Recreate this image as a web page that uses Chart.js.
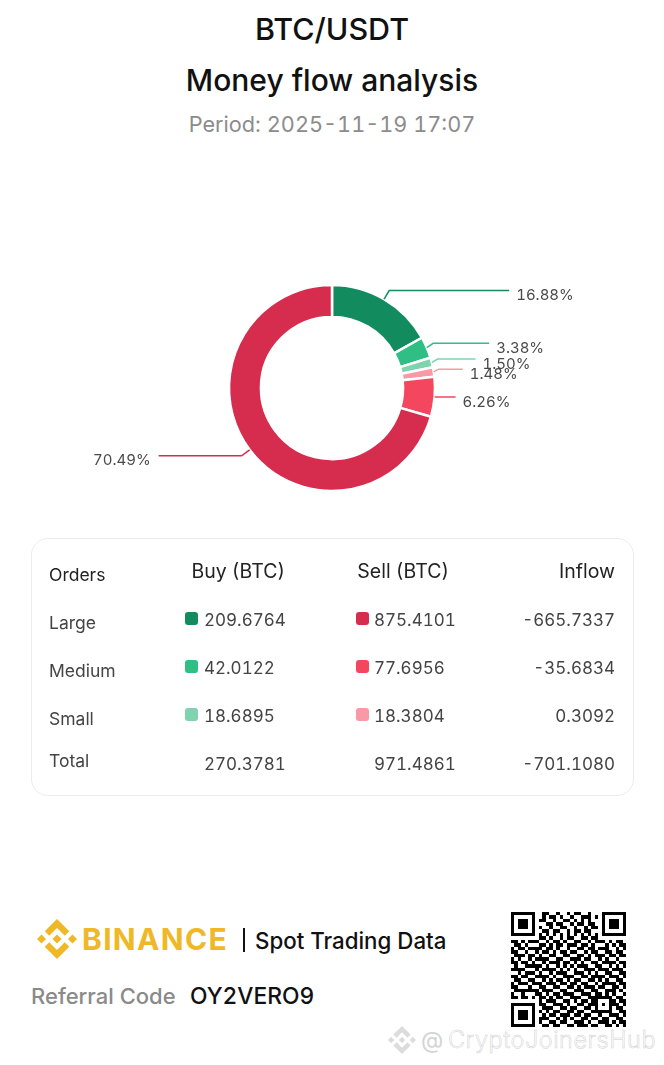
<!DOCTYPE html>
<html>
<head>
<meta charset="utf-8">
<title>BTC/USDT Money flow analysis</title>
<script src="https://cdn.jsdelivr.net/npm/chart.js@4"></script>
<style>
    html, body { margin: 0; padding: 0; background: #fff; }
    body { position: relative; width: 664px; height: 1065px; overflow: hidden; font-family: Inter, "Noto Sans", sans-serif; color: #111; font-variant-numeric: tabular-nums; }
    .t { position: absolute; white-space: nowrap; line-height: 1; transform: translateY(-50%); }
    .c { left: 0; width: 664px; text-align: center; }
    #chartBox { position: absolute; left: 0; top: 228px; width: 664px; height: 320px; }
    #flowChart { display: block; }
    #card { position: absolute; left: 31px; top: 538px; width: 601px; height: 256px; border: 1px solid #ececec; border-radius: 17px; }
    .swatch { position: absolute; width: 13px; height: 13px; border-radius: 3px; }
    #qr { position: absolute; left: 511px; top: 912px; }
    #logo { position: absolute; left: 37px; top: 919px; }
    #wmLogo { position: absolute; left: 388px; top: 1026px; }
</style>
</head>
<body>
<div class="t c" style="top:29px;font-size:30.5px;font-weight:500">BTC/USDT</div>
<div class="t c" style="top:80px;font-size:30px;font-weight:500">Money flow analysis</div>
<div class="t c" style="top:125px;font-size:21.7px;color:#8c8c8c">Period: 2025-11-19 17:07</div>

<div id="chartBox"><canvas id="flowChart" width="664" height="320"></canvas></div>
<div id="card"></div>

<svg id="logo" width="40" height="40" viewBox="0 0 126.61 126.61" fill="#efb827">
    <polygon points="38.73 53.2 63.3 28.63 87.89 53.22 102.19 38.92 63.3 0 24.42 38.9"/>
    <polygon points="0 63.31 14.3 49.01 28.6 63.31 14.3 77.61"/>
    <polygon points="38.73 73.41 63.3 97.98 87.89 73.39 102.2 87.68 63.3 126.61 24.41 87.73"/>
    <polygon points="98.01 63.31 112.31 49.01 126.61 63.31 112.31 77.61"/>
    <polygon points="77.8 63.3 63.3 48.8 48.82 63.28 63.3 77.79"/>
</svg>
<div class="t" style="left:82px;top:939px;font-size:30px;font-weight:700;color:#efb827;letter-spacing:1.3px">BINANCE</div>
<div style="position:absolute;left:243px;top:928px;width:2px;height:24px;background:#111"></div>
<div class="t" style="left:255px;top:941px;font-size:22.3px;font-weight:500">Spot Trading Data</div>
<div class="t" style="left:31px;top:996px;font-size:22px;font-weight:500;color:#8a8a8a">Referral Code</div>
<div class="t" style="left:190px;top:996px;font-size:22.8px;font-weight:500">OY2VERO9</div>

<svg id="qr" width="115" height="115" viewBox="0 0 33 33" shape-rendering="crispEdges"></svg>

<svg id="wmLogo" width="28" height="28" viewBox="0 0 126.61 126.61" fill="#dcdcdc">
    <polygon points="38.73 53.2 63.3 28.63 87.89 53.22 102.19 38.92 63.3 0 24.42 38.9"/>
    <polygon points="0 63.31 14.3 49.01 28.6 63.31 14.3 77.61"/>
    <polygon points="38.73 73.41 63.3 97.98 87.89 73.39 102.2 87.68 63.3 126.61 24.41 87.73"/>
    <polygon points="98.01 63.31 112.31 49.01 126.61 63.31 112.31 77.61"/>
    <polygon points="77.8 63.3 63.3 48.8 48.82 63.28 63.3 77.79"/>
</svg>
<div class="t" style="left:421px;top:1040px;font-size:23px;color:#d4d4d4">@</div>
<div class="t" style="left:448px;top:1040px;font-size:23.5px;font-weight:300;color:#fff;-webkit-text-stroke:0.5px #cfcfcf;letter-spacing:0.5px">CryptoJoinersHub</div>

<script>
// table rows
const orderNames = ['Large', 'Medium', 'Small'];
const buyValues = [209.6764, 42.0122, 18.6895];
const sellValues = [875.4101, 77.6956, 18.3804];
const inflowValues = ['-665.7337', '-35.6834', '0.3092'];
const totalRow = ['270.3781', '971.4861', '-701.1080'];
const columnTitles = ['Orders', 'Buy (BTC)', 'Sell (BTC)', 'Inflow'];

// doughnut, clockwise from the top
const sliceValues = [buyValues[0], buyValues[1], buyValues[2], sellValues[2], sellValues[1], sellValues[0]];
const sliceLabels = ['16.88%', '3.38%', '1.50%', '1.48%', '6.26%', '70.49%'];

const buyColors = ['#128c5f', '#2fbe84', '#7fd4af'];
const sellColors = ['#d62c4d', '#f5465f', '#fb98a6'];
const sliceColors = [buyColors[0], buyColors[1], buyColors[2], sellColors[2], sellColors[1], sellColors[0]];

// leader line of each slice: radial part, lift of the elbow, horizontal part (negative goes left)
const leaderRadial = [10, 7, 6, 5, 1, 10];
const leaderLift = [0, 1.5, 2, 2, 0, 0];
const leaderRun = [120, 56, 38, 24, 20, -83];

// qr code, read by eye
const qrRows = [
    '111111100110010010110010001111111',
    '100000100101101001001110101000001',
    '101110101100100110101010001011101',
    '101110100011011001011011001011101',
    '101110101001001100100101101011101',
    '100000100110110010110110001000001',
    '111111101010101010101010101111111',
    '000000001101001011001101100000000',
    '110101110010110100110010111010110',
    '011010001101011011101101000101011',
    '101101111011010010011011011100101',
    '110010010110101101100101100110110',
    '011101101001100110011010111011011',
    '101001011110011001110110010100100',
    '110110100101110110101001101111011',
    '010011111010010101011100110010101',
    '111100010111101010100111011101110',
    '001011101001011100111010100110011',
    '110110011110100111001101111011101',
    '011001100101011010110011010100110',
    '101110111011101101101100101111011',
    '110001001100110011010111011001101',
    '011111110111001100111001100111010',
    '100100011010110111001110110101001',
    '110110101101011001110011111110110',
    '000000001011100110101101100011011',
    '111111101100111010011011101011101',
    '100000100111001101100110100010110',
    '101110101010110011011001111110011',
    '101110100101101110110110010011101',
    '101110101110010101001101101100110',
    '100000101001101100111010011101011',
    '111111100110110011011101100110101'
];

function addText(text, x, y, size, weight, color, rightAlign) {
    const el = document.createElement('div');
    el.className = 't';
    el.textContent = text;
    el.style.top = y + 'px';
    if (rightAlign) {
        el.style.right = (664 - x) + 'px';
    } else {
        el.style.left = x + 'px';
    }
    el.style.fontSize = size + 'px';
    el.style.fontWeight = weight;
    el.style.color = color;
    document.body.appendChild(el);
}

function addSwatch(x, y, color) {
    const el = document.createElement('div');
    el.className = 'swatch';
    el.style.left = x + 'px';
    el.style.top = (y - 7) + 'px';
    el.style.background = color;
    document.body.appendChild(el);
}

function buildTable() {
    const rowY = [619, 667, 715];
    const nameY = [623, 671, 719];
    addText(columnTitles[0], 49, 575, 17.5, 400, '#222');
    addText(columnTitles[1], 285, 572, 19.5, 400, '#222', true);
    addText(columnTitles[2], 449, 572, 19.5, 400, '#222', true);
    addText(columnTitles[3], 615, 572, 19.5, 400, '#222', true);

    for (let i = 0; i < orderNames.length; i++) {
        addText(orderNames[i], 49, nameY[i], 17.5, 400, '#444');
        addSwatch(185, rowY[i], buyColors[i]);
        addText(buyValues[i].toFixed(4), 204, rowY[i] + 1, 17, 400, '#444');
        addSwatch(356, rowY[i], sellColors[i]);
        addText(sellValues[i].toFixed(4), 374, rowY[i] + 1, 17, 400, '#444');
        addText(inflowValues[i], 615, rowY[i] + 1, 17, 400, '#444', true);
    }

    addText('Total', 49, 761, 17.5, 400, '#444');
    addText(totalRow[0], 204, 764, 17, 400, '#444');
    addText(totalRow[1], 374, 764, 17, 400, '#444');
    addText(totalRow[2], 615, 764, 17, 400, '#444', true);
}

function buildQr() {
    const svg = document.getElementById('qr');
    let marks = '';
    qrRows.forEach((row, y) => {
        [...row].forEach((cell, x) => {
            if (cell === '1') {
                marks += `<rect x="${x}" y="${y}" width="1" height="1"/>`;
            }
        });
    });
    svg.innerHTML = marks;
}

// percent labels with their leader lines
const leaderPlugin = {
    id: 'leaderLabels',
    afterDatasetsDraw(chart) {
        const ctx = chart.ctx;
        const arcs = chart.getDatasetMeta(0).data;
        arcs.forEach((arc, i) => {
            const p = arc.getProps(['x', 'y', 'startAngle', 'endAngle', 'outerRadius']);
            const mid = (p.startAngle + p.endAngle) / 2;
            const sx = p.x + Math.cos(mid) * p.outerRadius;
            const sy = p.y + Math.sin(mid) * p.outerRadius;
            const ex = p.x + Math.cos(mid) * (p.outerRadius + leaderRadial[i]);
            const ey = p.y + Math.sin(mid) * (p.outerRadius + leaderRadial[i]) - leaderLift[i];
            const endX = ex + leaderRun[i];

            ctx.save();
            ctx.strokeStyle = sliceColors[i];
            ctx.lineWidth = 1.5;
            ctx.beginPath();
            ctx.moveTo(sx, sy);
            ctx.lineTo(ex, ey);
            ctx.lineTo(endX, ey);
            ctx.stroke();

            ctx.font = '15px Inter';
            ctx.fillStyle = '#4a4a4a';
            ctx.textBaseline = 'middle';
            ctx.textAlign = leaderRun[i] < 0 ? 'right' : 'left';
            ctx.fillText(sliceLabels[i], endX + (leaderRun[i] < 0 ? -8 : 7), ey + 5);
            ctx.restore();
        });
    }
};

buildTable();
buildQr();

const ctx = document.getElementById('flowChart').getContext('2d');

new Chart(ctx, {
    type: 'doughnut',
    data: {
        labels: ['Large buy', 'Medium buy', 'Small buy', 'Small sell', 'Medium sell', 'Large sell'],
        datasets: [{
            data: sliceValues,
            backgroundColor: sliceColors,
            borderColor: '#ffffff',
            borderWidth: 2.5
        }]
    },
    options: {
        responsive: false,
        animation: false,
        devicePixelRatio: 1,
        radius: 103,
        cutout: '69%',
        layout: { padding: 0 },
        plugins: {
            legend: { display: false },
            tooltip: { enabled: false }
        }
    },
    plugins: [leaderPlugin]
});
</script>
</body>
</html>
